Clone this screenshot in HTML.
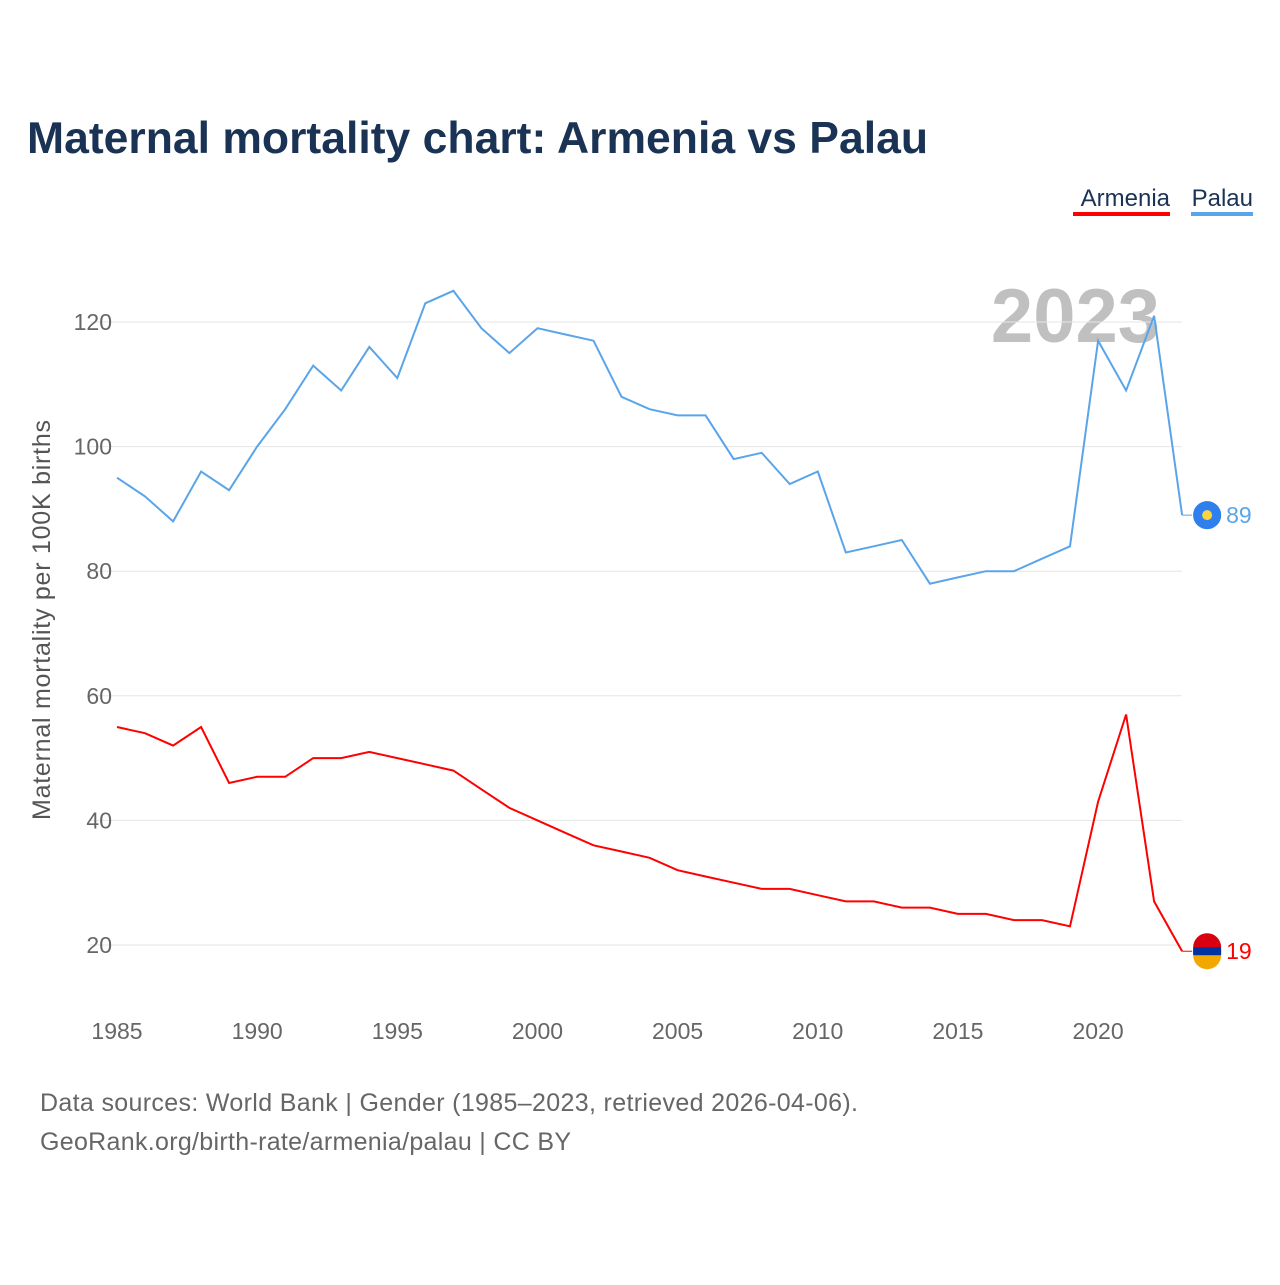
<!DOCTYPE html>
<html><head><meta charset="utf-8"><style>
body{margin:0;background:#fff;font-family:"Liberation Sans",sans-serif}
svg text{font-family:"Liberation Sans",sans-serif}
</style></head><body>
<svg width="1280" height="1280" viewBox="0 0 1280 1280">
<text x="27" y="153" font-size="44.5" font-weight="bold" fill="#1a3355">Maternal mortality chart: Armenia vs Palau</text>
<g>
<text x="1170" y="206" font-size="24" fill="#1a3355" text-anchor="end">Armenia</text>
<rect x="1073" y="212" width="97" height="4" fill="#ff0000"/>
<text x="1253" y="206" font-size="24" fill="#1a3355" text-anchor="end">Palau</text>
<rect x="1191" y="212" width="62" height="4" fill="#5aa5ea"/>
</g>
<text x="1160" y="342" font-size="76" font-weight="bold" fill="#c0c0c0" text-anchor="end">2023</text>
<g id="grid"></g><g id="series"></g>
<text transform="translate(50,620) rotate(-90)" font-size="25" fill="#555" text-anchor="middle" textLength="400">Maternal mortality per 100K births</text>
<text x="40" y="1111" font-size="25" fill="#666" textLength="818">Data sources: World Bank | Gender (1985–2023, retrieved 2026-04-06).</text>
<text x="40" y="1150" font-size="25" fill="#666" textLength="531">GeoRank.org/birth-rate/armenia/palau | CC BY</text>
</svg>
<script>
const years=[];for(let y=1985;y<=2023;y++)years.push(y);
const palau=[95,92,88,96,93,100,106,113,109,116,111,123,125,119,115,119,118,117,108,106,105,105,98,99,94,96,83,84,85,78,79,80,80,82,84,117,109,121,89];
const armenia=[55,54,52,55,46,47,47,50,50,51,50,49,48,45,42,40,38,36,35,34,32,31,30,29,29,28,27,27,26,26,25,25,24,24,23,43,57,27,19];
const yTicks=[20,40,60,80,100,120];
const xTicks=[1985,1990,1995,2000,2005,2010,2015,2020];
const NS="http://www.w3.org/2000/svg";
const X=v=>117+(v-1985)*28.03;
const Y=v=>945-(v-20)*6.23;
const grid=document.getElementById('grid'),ser=document.getElementById('series');
function mk(tag,a,p){const e=document.createElementNS(NS,tag);for(const k in a)e.setAttribute(k,a[k]);p.appendChild(e);return e;}
yTicks.forEach(t=>{
 const l=mk('line',{x1:90,x2:1182,y1:Y(t),y2:Y(t),stroke:'#e6e6e6','stroke-width':1},grid);
 
 
 const tx=mk('text',{x:112,y:Y(t)+8,'font-size':23,fill:'#666','text-anchor':'end'},grid);tx.textContent=t;
 
 
});
xTicks.forEach(t=>{
 const tx=mk('text',{x:X(t),y:1039,'font-size':23,fill:'#666','text-anchor':'middle'},grid);tx.textContent=t;
 
 
});
function line(vals,color,name){
 const d=vals.map((v,i)=>(i?'L':'M')+X(years[i]).toFixed(1)+','+Y(v).toFixed(1)).join('');
 const p=mk('path',{d:d,fill:'none',stroke:color,'stroke-width':2},ser);
 
 
 const last=vals[vals.length-1],lx=X(years[years.length-1]),ly=Y(last);
 const c=mk('line',{x1:lx,x2:lx+10,y1:ly,y2:ly,stroke:color,'stroke-width':1},ser);
 
 
 const m=mk('circle',{cx:lx+25,cy:ly,r:14,fill:color},ser);
 
 
 const t=mk('text',{x:lx+44,y:ly+8,'font-size':23,fill:color},ser);t.textContent=last;
 
 
 return [lx+25,ly];
}
const [px,py]=line(palau,'#5aa5ea','palau');
mk('circle',{cx:px,cy:py,r:14,fill:'#2f80ed'},ser);
mk('circle',{cx:px,cy:py,r:5,fill:'#ffd23f'},ser);
const [ax,ay]=line(armenia,'#ff0000','armenia');
mk('path',{d:`M${ax-14},${ay-4}A14,14 0 0 1 ${ax+14},${ay-4}Z`,fill:'#d90012'},ser);
mk('rect',{x:ax-14,y:ay-4,width:28,height:8,fill:'#0033a0'},ser);
mk('path',{d:`M${ax-14},${ay+4}A14,14 0 0 0 ${ax+14},${ay+4}Z`,fill:'#f2a800'},ser);
</script>
</body></html>
